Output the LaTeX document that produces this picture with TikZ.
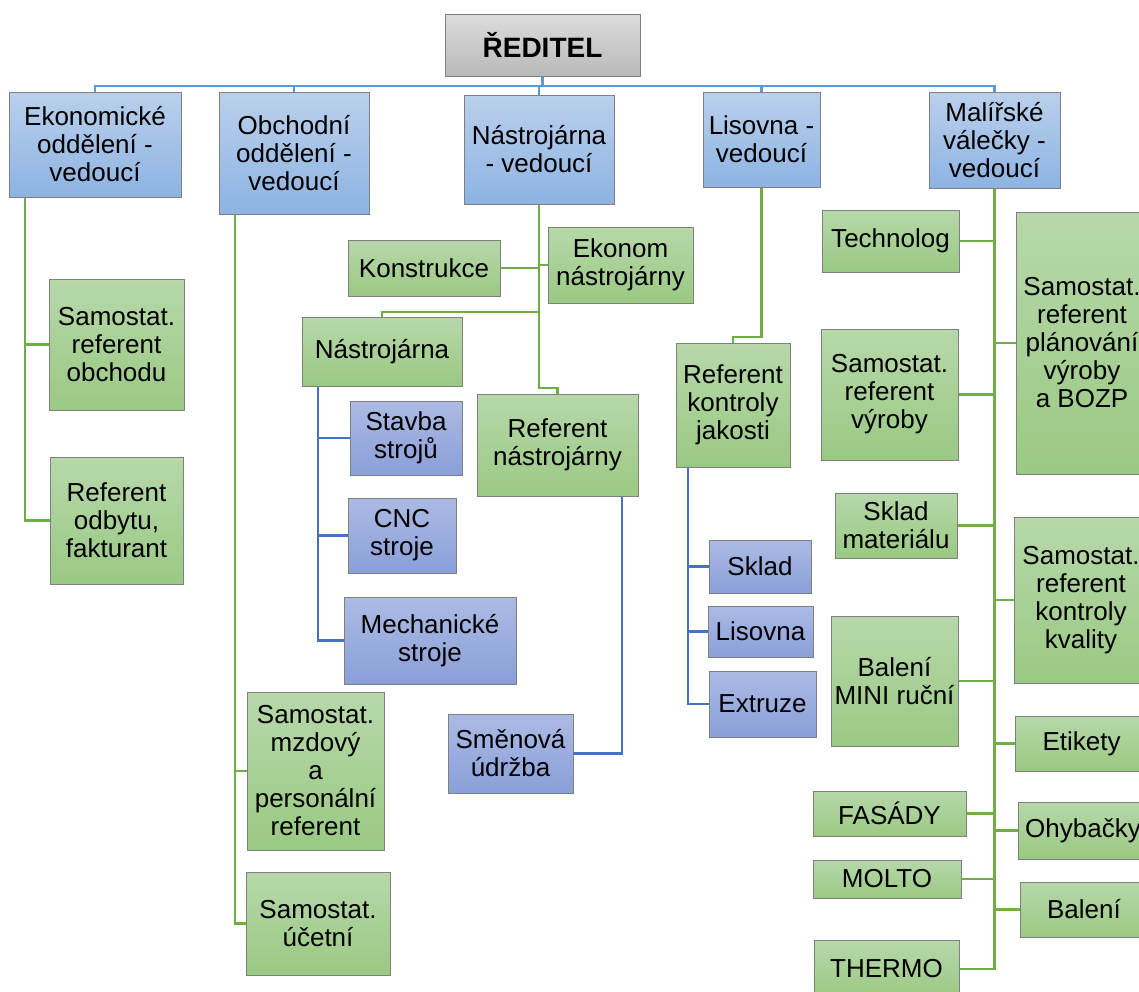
\documentclass[tikz,border=0pt]{standalone}
\usepackage{fontspec}
\setmainfont{Liberation Sans}
\usetikzlibrary{positioning}
\pgfdeclarelayer{background}
\pgfsetlayers{background,main}
\definecolor{graytop}{HTML}{DCDCDC}
\definecolor{graybot}{HTML}{B9B9B9}
\definecolor{bluetop}{HTML}{BAD0EC}
\definecolor{bluebot}{HTML}{8DB3E2}
\definecolor{greentop}{HTML}{B7D8AA}
\definecolor{greenbot}{HTML}{9AC983}
\definecolor{violettop}{HTML}{ACBBE4}
\definecolor{violetbot}{HTML}{8A9FD9}
\definecolor{busblue}{HTML}{5B9BD5}
\definecolor{linegreen}{HTML}{70AD47}
\definecolor{lineblue}{HTML}{4472C4}
\tikzstyle{orgbox} = [draw=black!50, line width=0.8pt, align=center, inner sep=0pt, outer sep=0pt, font=\fontsize{26pt}{28pt}\selectfont]
\tikzstyle{headblock} = [orgbox, top color=graytop, bottom color=graybot, font=\fontsize{28pt}{30pt}\selectfont\bfseries]
\tikzstyle{blueblock} = [orgbox, top color=bluetop, bottom color=bluebot]
\tikzstyle{greenblock} = [orgbox, top color=greentop, bottom color=greenbot]
\tikzstyle{violetblock} = [orgbox, top color=violettop, bottom color=violetbot]
\tikzstyle{busline} = [draw, line width=2.5pt, color=busblue]
\tikzstyle{greenline} = [draw, line width=2.5pt, color=linegreen]
\tikzstyle{blueline} = [draw, line width=2.5pt, color=lineblue]
\newcommand{\headblock}[4]{node (h#1) [headblock, minimum width=#2pt, minimum height=#3pt] {#4}}
\newcommand{\blueblock}[4]{node (b#1) [blueblock, minimum width=#2pt, minimum height=#3pt] {#4}}
\newcommand{\greenblock}[4]{node (g#1) [greenblock, minimum width=#2pt, minimum height=#3pt] {#4}}
\newcommand{\violetblock}[4]{node (v#1) [violetblock, minimum width=#2pt, minimum height=#3pt] {#4}}

\begin{document}
\begin{tikzpicture}[x=1pt,y=-1pt]
\useasboundingbox (0,0) rectangle (1139,991);
\clip (0,0) rectangle (1139,991);
\path (542.5,45) \headblock{red}{195}{62}{ŘEDITEL};
\path (95,144.5) \blueblock{eko}{172}{105}{Ekonomické\\oddělení -\\vedoucí};
\path (294,153) \blueblock{obch}{150}{122}{Obchodní\\oddělení -\\vedoucí};
\path (539,149.5) \blueblock{nast}{150}{109}{Nástrojárna\\- vedoucí};
\path (761.5,139.5) \blueblock{lis}{117}{95}{Lisovna -\\vedoucí};
\path (994.5,140) \blueblock{mal}{131}{96}{Malířské\\válečky -\\vedoucí};

% ekonomicke
\path (116.5,344.5) \greenblock{sobchod}{135}{131}{Samostat.\\referent\\obchodu};
\path (116.5,520.5) \greenblock{odbyt}{133}{127}{Referent\\odbytu,\\fakturant};

% obchodni
\path (315.5,771) \greenblock{mzdovy}{137}{158}{Samostat.\\mzdový\\a\\personální\\referent};
\path (318,923.5) \greenblock{ucetni}{144}{103}{Samostat.\\účetní};

% nastrojarna
\path (424,268) \greenblock{konstr}{152}{56}{Konstrukce};
\path (620.5,265) \greenblock{ekonom}{145}{76}{Ekonom\\nástrojárny};
\path (382,351.5) \greenblock{nastroj}{160}{69}{Nástrojárna};
\path (557.5,445) \greenblock{refnast}{161}{102}{Referent\\nástrojárny};
\path (406,438) \violetblock{stavba}{112}{74}{Stavba\\strojů};
\path (402,535.5) \violetblock{cnc}{108}{75}{CNC\\stroje};
\path (430,640.5) \violetblock{mech}{172}{87}{Mechanické\\stroje};
\path (510.5,753.5) \violetblock{smena}{125}{79}{Směnová\\údržba};

% lisovna
\path (733,405) \greenblock{refkont}{114}{124}{Referent\\kontroly\\jakosti};
\path (760,566.5) \violetblock{sklad}{102}{53}{Sklad};
\path (760.5,631.5) \violetblock{lisovna}{105}{51}{Lisovna};
\path (762.5,704) \violetblock{extruze}{107}{66}{Extruze};

% malirske valecky
\path (890.5,241) \greenblock{techn}{137}{62}{Technolog};
\path (889.5,394.5) \greenblock{svyroby}{137}{131}{Samostat.\\referent\\výroby};
\path (896,525.5) \greenblock{skladmat}{122}{65}{Sklad\\materiálu};
\path (894.5,681) \greenblock{balmini}{127}{130}{Balení\\MINI ruční};
\path (889.5,813.5) \greenblock{fasady}{153}{45}{FASÁDY};
\path (887,879) \greenblock{molto}{148}{38}{MOLTO};
\path (886.5,969) \greenblock{thermo}{145}{58}{THERMO};
\path (1082,343) \greenblock{planovani}{132}{262}{Samostat.\\referent\\plánování\\výroby\\a BOZP};
\path (1081,600) \greenblock{kvalita}{134}{166}{Samostat.\\referent\\kontroly\\kvality};
\path (1081.5,743.5) \greenblock{etikety}{133}{55}{Etikety};
\path (1083,830.5) \greenblock{ohyb}{130}{57}{Ohybačky};
\path (1084,909.5) \greenblock{baleni}{128}{55}{Balení};

\begin{pgfonlayer}{background}
\path [busline] (hred.south) -- ++(0,10) -| (beko.north);
\path [busline] (hred.south) -- ++(0,10) -| (bobch.north);
\path [busline] (hred.south) -- ++(0,10) -| (bnast.north);
\path [busline] (hred.south) -- ++(0,10) -| (blis.north);
\path [busline] (hred.south) -- ++(0,10) -| (bmal.north);

\path [greenline] ([xshift=16pt]beko.south west) |- (gsobchod.west);
\path [greenline] ([xshift=16pt]beko.south west) |- (godbyt.west);

\path [greenline] ([xshift=16pt]bobch.south west) |- (gmzdovy.west);
\path [greenline] ([xshift=16pt]bobch.south west) |- (gucetni.west);

\path [greenline] (bnast.south) |- (gkonstr.east);
\path [greenline] (bnast.south) |- (gekonom.west);
\path [greenline] (bnast.south) -- ++(0,108) -| (gnastroj.north);
\path [greenline] (bnast.south) -- ++(0,184) -| (grefnast.north);
\path [blueline] ([xshift=16pt]gnastroj.south west) |- (vstavba.west);
\path [blueline] ([xshift=16pt]gnastroj.south west) |- (vcnc.west);
\path [blueline] ([xshift=16pt]gnastroj.south west) |- (vmech.west);
\path [blueline] ([xshift=-16pt]grefnast.south east) |- (vsmena.east);

\path [greenline] (blis.south) -- ++(0,150) -| (grefkont.north);
\path [blueline] ([xshift=12pt]grefkont.south west) |- (vsklad.west);
\path [blueline] ([xshift=12pt]grefkont.south west) |- (vlisovna.west);
\path [blueline] ([xshift=12pt]grefkont.south west) |- (vextruze.west);

\path [greenline] (bmal.south) |- (gtechn.east);
\path [greenline] (bmal.south) |- (gsvyroby.east);
\path [greenline] (bmal.south) |- (gskladmat.east);
\path [greenline] (bmal.south) |- (gbalmini.east);
\path [greenline] (bmal.south) |- (gfasady.east);
\path [greenline] (bmal.south) |- (gmolto.east);
\path [greenline] (bmal.south) |- (gthermo.east);
\path [greenline] (bmal.south) |- (gplanovani.west);
\path [greenline] (bmal.south) |- (gkvalita.west);
\path [greenline] (bmal.south) |- (getikety.west);
\path [greenline] (bmal.south) |- (gohyb.west);
\path [greenline] (bmal.south) |- (gbaleni.west);
\end{pgfonlayer}
\end{tikzpicture}
\end{document}
